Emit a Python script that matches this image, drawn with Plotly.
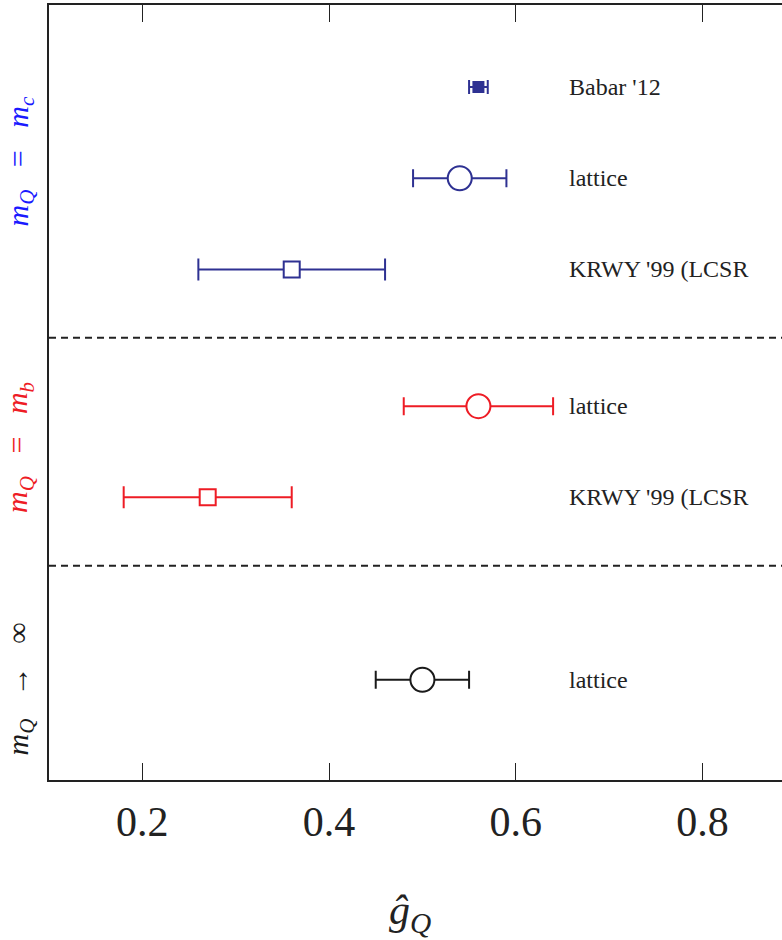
import plotly.graph_objects as go

# Measurements of the coupling g_Q, grouped by heavy-quark mass
labels = ["Babar '12", "lattice", "KRWY '99 (LCSR", "lattice", "KRWY '99 (LCSR", "lattice"]
values = [0.56, 0.54, 0.36, 0.56, 0.27, 0.50]
errors = [0.01, 0.05, 0.10, 0.08, 0.09, 0.05]
rows = [0.9, 1.9, 2.9, 4.4, 5.4, 7.4]
groups = ["c", "c", "c", "b", "b", "inf"]
symbols = ["square", "circle", "square", "circle", "square", "circle"]

separators = [3.65, 6.15]
group_titles = {
    "c": ("<i>m</i><sub><i>Q</i></sub>   =   <i>m</i><sub><i>c</i></sub>", 1.72),
    "b": ("<i>m</i><sub><i>Q</i></sub>   =   <i>m</i><sub><i>b</i></sub>", 4.85),
    "inf": ("<i>m</i><sub><i>Q</i></sub>   →   ∞", 7.5),
}
mark_colors = {"c": "#2e3192", "b": "#ee1c25", "inf": "#1a1a1a"}
title_colors = {"c": "#1a1aff", "b": "#ee1c25", "inf": "#1a1a1a"}

TEXT_FONT = "Liberation Serif"

fig = go.Figure()

for i in range(len(values)):
    col = mark_colors[groups[i]]
    filled = labels[i].startswith("Babar")
    if symbols[i] == "circle":
        size = 24
        cap = 9
    elif filled:
        size = 10
        cap = 7
    else:
        size = 16
        cap = 11
    fig.add_trace(go.Scatter(
        x=[values[i]], y=[rows[i]],
        mode="markers",
        marker=dict(
            symbol=symbols[i], size=size,
            color=col if filled else "white",
            line=dict(color=col, width=2),
        ),
        error_x=dict(type="data", array=[errors[i]], color=col,
                     thickness=2, width=cap),
        showlegend=False, hoverinfo="skip",
    ))
    fig.add_annotation(
        x=0.655, y=rows[i], text=labels[i], showarrow=False,
        xanchor="left", yanchor="middle",
        font=dict(family=TEXT_FONT, size=24, color="#222"),
    )

for ys in separators:
    fig.add_shape(type="line", xref="paper", x0=0, x1=1, y0=ys, y1=ys,
                  line=dict(color="#222", width=2, dash="7px,5px"))

for key, (txt, yc) in group_titles.items():
    fig.add_annotation(
        xref="paper", x=-0.04, y=yc, text=txt, showarrow=False,
        textangle=-90, xanchor="center", yanchor="middle",
        font=dict(family=TEXT_FONT, size=30, color=title_colors[key]),
    )

fig.add_annotation(
    xref="paper", yref="paper", x=0.4925, y=-0.172,
    text="<i>ĝ</i><sub><i>Q</i></sub>", showarrow=False,
    xanchor="center", yanchor="middle",
    font=dict(family=TEXT_FONT, size=42, color="#222"),
)

fig.update_layout(
    width=782, height=940,
    margin=dict(l=49, r=0, t=5, b=160),
    paper_bgcolor="white", plot_bgcolor="white",
    xaxis=dict(
        range=[0.1, 0.8852],
        tickvals=[0.2, 0.4, 0.6, 0.8],
        ticktext=["0.2", "0.4", "0.6", "0.8"],
        ticks="inside", ticklen=17, tickwidth=1, tickcolor="#222",
        showline=True, linecolor="#222", linewidth=2, mirror="ticks",
        showgrid=False, zeroline=False,
        tickfont=dict(family=TEXT_FONT, size=42, color="#222"),
        ticklabelstandoff=4,
    ),
    yaxis=dict(
        range=[8.5, 0], showticklabels=False, ticks="",
        showline=True, linecolor="#222", linewidth=2,
        showgrid=False, zeroline=False,
    ),
)

fig.write_html("out.html")
